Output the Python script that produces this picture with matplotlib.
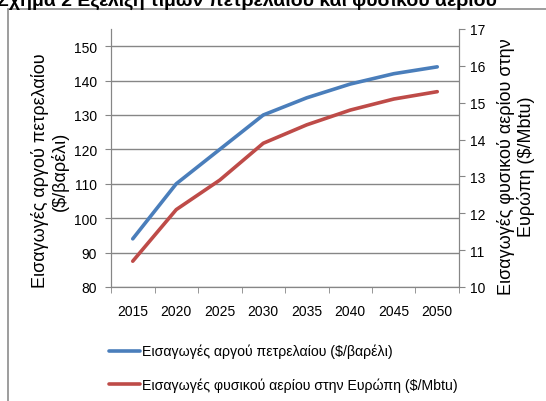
import numpy as np
import matplotlib.pyplot as plt
from matplotlib.patches import Rectangle

plt.rcParams['font.family'] = ['Liberation Sans', 'DejaVu Sans']

years = ['2015', '2020', '2025', '2030', '2035', '2040', '2045', '2050']
oil = [94, 110, 120, 130, 135, 139, 142, 144]
gas = [10.7, 12.1, 12.9, 13.9, 14.4, 14.8, 15.1, 15.3]
oil_label = 'Εισαγωγές αργού πετρελαίου ($/βαρέλι)'
gas_label = 'Εισαγωγές φυσικού αερίου στην Ευρώπη ($/Mbtu)'

W, H = 546, 402
fig = plt.figure(figsize=(W / 100, H / 100), dpi=100)
ax = fig.add_axes([111 / W, 1 - 288 / H, (459 - 111) / W, (288 - 30) / H])
ax2 = ax.twinx()

grey = '#868686'
x = np.arange(len(years))
l1, = ax.plot(x, oil, color='#4A7EBB', lw=2.6, solid_capstyle='round', label=oil_label)
l2, = ax2.plot(x, gas, color='#BE4B48', lw=2.6, solid_capstyle='round', label=gas_label)

ax.set_xlim(-0.5, len(years) - 0.5)
ax.set_ylim(80, 155)
ax.set_yticks(np.arange(80, 151, 10))
ax2.set_ylim(10, 17)
ax2.set_yticks(np.arange(10, 18, 1))
ax.set_xticks(x)
ax.set_xticklabels(years)
ax.set_xticks(np.arange(-0.5, len(years), 1), minor=True)
ax.tick_params(axis='x', which='major', length=0, pad=12, labelsize=10)
ax.tick_params(axis='x', which='minor', length=4, color=grey)
ax.tick_params(axis='y', length=4, color=grey, labelsize=10, pad=6)
ax2.tick_params(axis='y', length=4, color=grey, labelsize=10, pad=4)
ax.yaxis.grid(True, color=grey, lw=1)
ax.set_axisbelow(True)
for a in (ax, ax2):
    for s in a.spines.values():
        s.set_color(grey)
    a.spines['top'].set_visible(False)

fig.text(50 / W, 1 - 171 / H, 'Εισαγωγές αργού πετρελαίου\n($/βαρέλι)',
         rotation=90, ha='center', va='center', multialignment='center',
         fontsize=13, linespacing=1.15)
fig.text(516 / W, 1 - 167 / H, 'Εισαγωγές φυσικού αερίου στην\nΕυρώπη ($/Mbtu)',
         rotation=90, ha='center', va='center', multialignment='center',
         fontsize=13, linespacing=1.15)

fig.legend([l1, l2], [oil_label, gas_label], loc='upper left',
           bbox_to_anchor=(109 / W, 1 - 345 / H), frameon=False, fontsize=10.2,
           handlelength=2.2, handletextpad=0.1, borderpad=0, borderaxespad=0,
           labelspacing=1.35)

# chart border, only its top-left corner is inside the picture
fig.patches.append(Rectangle((8 / W, -0.1), 1.2, 1.1 - 10 / H, transform=fig.transFigure,
                             fill=False, edgecolor='#8c8c8c', lw=1.2))
# caption above the chart, cut by the top edge as in the source
fig.text(-3 / W, 1 - 6 / H, 'Σχήμα 2 Εξέλιξη τιμών πετρελαίου και φυσικού αερίου',
         ha='left', va='baseline', fontsize=14, fontweight='bold')

fig.savefig('out.png', dpi=100)
